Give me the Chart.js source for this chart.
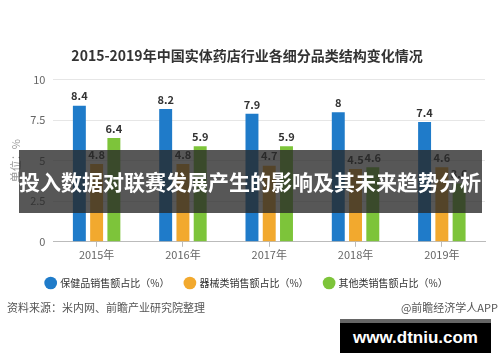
<!DOCTYPE html>
<html><head><meta charset="utf-8">
<script src="https://cdn.jsdelivr.net/npm/chart.js@4/dist/chart.umd.min.js"></script>
<style>
html,body{margin:0;padding:0;background:#fff;}
#wrap{position:relative;width:500px;height:362px;overflow:hidden;font-family:"Noto Sans CJK SC","Noto Sans",sans-serif;}
#c{position:absolute;left:0;top:0;}
.t{position:absolute;white-space:nowrap;}
#src{left:7px;top:299px;font-size:11px;color:#555;}
#app{right:2px;top:299px;font-size:11px;color:#555;}
#band{left:19px;top:150px;width:463px;height:63px;background:rgba(40,40,40,0.78);}
#bandtxt{left:0px;top:150px;width:500px;height:63px;line-height:63px;text-align:center;color:#fff;font-weight:bold;font-size:21px;}
#wm{left:340px;top:319px;width:151px;height:34px;background:#000;border-top:4px solid #666;box-sizing:border-box;color:#fff;font-family:"Liberation Sans",Arial,sans-serif;font-weight:bold;font-size:17px;text-align:center;line-height:30px;}
</style></head>
<body><div id="wrap">
<canvas id="c" width="500" height="362"></canvas>
<div class="t" id="src">资料来源：米内网、前瞻产业研究院整理</div>
<div class="t" id="app">@前瞻经济学人APP</div>
<div class="t" id="band"></div>
<div class="t" id="bandtxt">投入数据对联赛发展产生的影响及其未来趋势分析</div>
<div class="t" id="wm">www.dtniu.com</div>
</div>
<script>
const categories = ["2015年","2016年","2017年","2018年","2019年"];
const healthShare = [8.4, 8.2, 7.9, 8, 7.4];
const deviceShare = [4.8, 4.8, 4.7, 4.5, 4.6];
const otherShare = [6.4, 5.9, 5.9, 4.6, 3.6];
const seriesNames = ["保健品销售额占比（%）","器械类销售额占比（%）","其他类销售额占比（%）"];
const yTicks = [0, 2.5, 5, 7.5, 10];
const chartTitle = "2015-2019年中国实体药店行业各细分品类结构变化情况";

const FONT = '"Noto Sans CJK SC","Noto Sans",sans-serif';
const labelPlugin = {
  id:'valueLabels',
  afterDatasetsDraw(chart){
    const ctx = chart.ctx;
    ctx.save();
    ctx.font = 'bold 11px ' + FONT;
    ctx.fillStyle = '#333';
    ctx.textAlign = 'center';
    ctx.textBaseline = 'bottom';
    chart.data.datasets.forEach((ds,i)=>{
      chart.getDatasetMeta(i).data.forEach((bar,j)=>{
        ctx.fillText(String(ds.data[j]), bar.x, bar.y - 4);
      });
    });
    ctx.restore();
  }
};

new Chart(document.getElementById('c'), {
  type:'bar',
  data:{
    labels:categories,
    datasets:[
      {label:seriesNames[0], data:healthShare, backgroundColor:'#1f7bc9'},
      {label:seriesNames[1], data:deviceShare, backgroundColor:'#f2a92e'},
      {label:seriesNames[2], data:otherShare, backgroundColor:'#7dc43a'}
    ]
  },
  options:{
    responsive:false,
    animation:false,
    devicePixelRatio:1,
    layout:{padding:{top:47,left:9,right:15,bottom:64}},
    datasets:{bar:{categoryPercentage:0.6, barPercentage:0.75}},
    plugins:{
      title:{display:true, text:chartTitle, color:'#333', font:{family:FONT, size:14, weight:'bold'}, padding:{top:0,bottom:16}},
      legend:{position:'bottom', labels:{usePointStyle:true, pointStyle:'circle', boxWidth:9, boxHeight:9, padding:16, color:'#333', font:{family:FONT, size:10}}},
      tooltip:{enabled:false}
    },
    scales:{
      x:{
        grid:{display:true, drawOnChartArea:false, offset:false, tickLength:5, color:'#bbb'},
        border:{color:'#bbb'},
        ticks:{color:'#666', font:{family:FONT, size:11}, padding:1}
      },
      y:{
        min:0, max:10,
        afterBuildTicks(axis){ axis.ticks = yTicks.map(v=>({value:v})); },
        grid:{color:'#e6e6e6', drawTicks:false},
        border:{display:false},
        ticks:{color:'#666', font:{family:FONT, size:11}, padding:8},
        title:{display:true, text:'单位：%', color:'#999', font:{family:FONT, size:11}, padding:0}
      }
    }
  },
  plugins:[labelPlugin]
});
</script>
</body></html>
